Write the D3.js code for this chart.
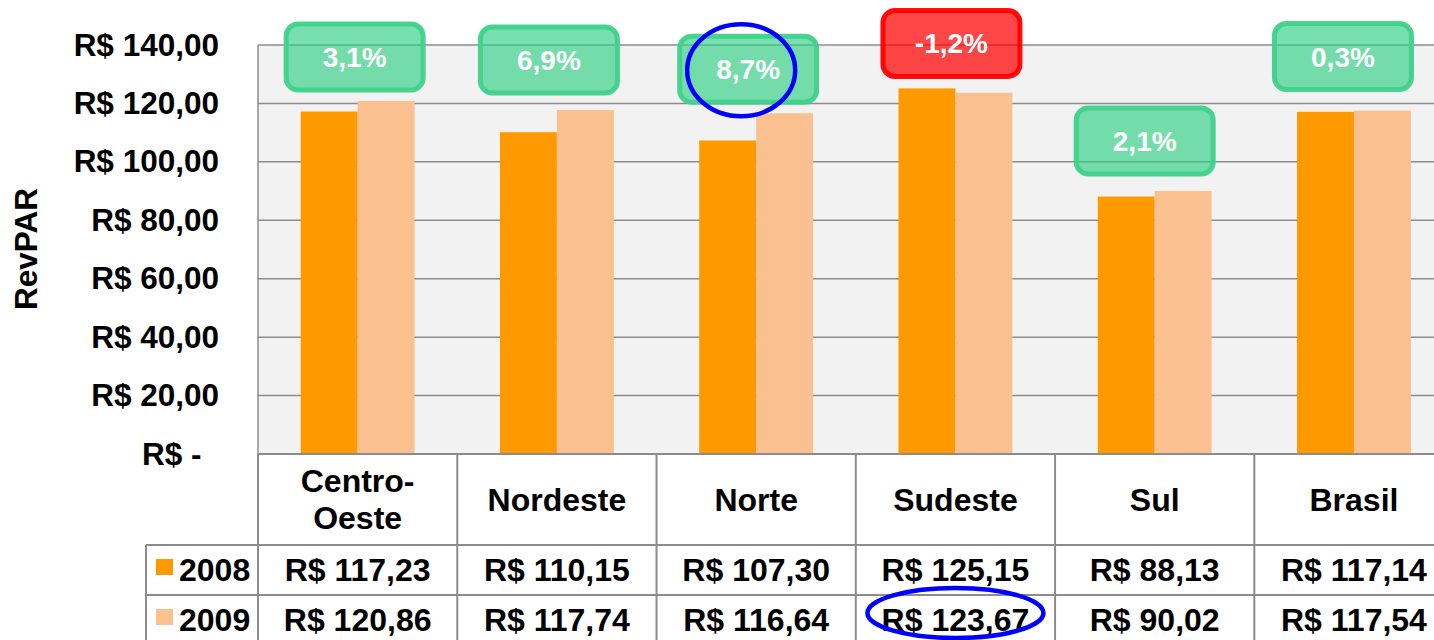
<!DOCTYPE html>
<html>
<head>
<meta charset="utf-8">
<script src="https://cdn.jsdelivr.net/npm/d3@7"></script>
<style>
  body { margin: 0; background: #fff; }
  svg text { font-family: "Liberation Sans", Arial, sans-serif; font-weight: bold; }
</style>
</head>
<body>
<div id="chart"></div>
<script>
// data
var regions = ["Centro-Oeste", "Nordeste", "Norte", "Sudeste", "Sul", "Brasil"];
var regionLines = [["Centro-", "Oeste"], ["Nordeste"], ["Norte"], ["Sudeste"], ["Sul"], ["Brasil"]];
var years = ["2008", "2009"];
var rev2008 = [117.23, 110.15, 107.30, 125.15, 88.13, 117.14];
var rev2009 = [120.86, 117.74, 116.64, 123.67, 90.02, 117.54];
var growthLabels = ["3,1%", "6,9%", "8,7%", "-1,2%", "2,1%", "0,3%"];
var yTicks = [0, 20, 40, 60, 80, 100, 120, 140];

// layout of the hand-placed callout boxes (px above tallest bar / shift from column centre)
var boxLift = [77, 83, 77, 78, 83, 87];
var boxDx = [-3, -8, -8, -4, -10, -11];

var W = 1434, H = 640;
var plotLeft = 258, plotRight = 1453.6, plotTop = 45, plotBottom = 454;
var rowTops = [454, 545, 595, 645];   // header, 2008, 2009
var legendLeft = 146;
var colors = ["#ff9900", "#fac090"];
var gridColor = "#8c8c8c";
var fs = 32;

var money = function (v) { return "R$ " + v.toFixed(2).replace(".", ","); };

var svg = d3.select("#chart").append("svg")
    .attr("width", W)
    .attr("height", H);

var x = d3.scaleBand().domain(regions).range([plotLeft, plotRight]);
var xs = d3.scaleBand().domain(years).range([0, x.bandwidth()])
    .paddingInner(0).paddingOuter(0.75);     // gap width 150%
var y = d3.scaleLinear().domain([0, 140]).range([plotBottom, plotTop]);

// plot background
svg.append("rect")
    .attr("x", plotLeft).attr("y", plotTop)
    .attr("width", plotRight - plotLeft).attr("height", plotBottom - plotTop)
    .attr("fill", "#f2f2f2");

// gridlines
svg.append("g").selectAll("line").data(yTicks).join("line")
    .attr("x1", plotLeft).attr("x2", plotRight)
    .attr("y1", d => y(d)).attr("y2", d => y(d))
    .attr("stroke", gridColor).attr("stroke-width", 1.5);

svg.append("line")
    .attr("x1", plotLeft).attr("x2", plotLeft).attr("y1", plotTop).attr("y2", plotBottom)
    .attr("stroke", gridColor).attr("stroke-width", 1.5);

// bars
var series = [rev2008, rev2009];
series.forEach(function (vals, si) {
    svg.append("g").selectAll("rect").data(regions).join("rect")
        .attr("x", d => x(d) + xs(years[si]))
        .attr("width", xs.bandwidth())
        .attr("y", (d, i) => y(vals[i]))
        .attr("height", (d, i) => y(0) - y(vals[i]))
        .attr("fill", colors[si]);
});

// y axis
var yAxis = d3.axisLeft(y).tickValues(yTicks).tickSize(0).tickPadding(0)
    .tickFormat(d => d === 0 ? "R$ -\u00a0\u00a0" : money(d));
var ga = svg.append("g").attr("transform", "translate(219,0)").call(yAxis);
ga.select(".domain").remove();
ga.selectAll("text")
    .attr("font-size", 31.5).attr("fill", "#000")
    .style("font-family", "'Liberation Sans', Arial, sans-serif")
    .style("font-weight", "bold");

svg.append("text")
    .attr("transform", "translate(37,249) rotate(-90)")
    .attr("text-anchor", "middle")
    .attr("font-size", 31.5)
    .text("RevPAR");

// data table
var tbl = svg.append("g").attr("stroke", gridColor).attr("stroke-width", 2);
var colEdges = regions.map(d => x(d)).concat([plotRight]);
tbl.selectAll(".v").data(colEdges).join("line")
    .attr("x1", d => d).attr("x2", d => d)
    .attr("y1", rowTops[0]).attr("y2", H);
tbl.append("line").attr("x1", legendLeft).attr("x2", legendLeft)
    .attr("y1", rowTops[1]).attr("y2", H);
tbl.append("line").attr("x1", plotLeft).attr("x2", plotRight)
    .attr("y1", rowTops[0]).attr("y2", rowTops[0]);
tbl.selectAll(".h").data(rowTops.slice(1, 3)).join("line")
    .attr("x1", legendLeft).attr("x2", plotRight)
    .attr("y1", d => d).attr("y2", d => d);

// header row
regions.forEach(function (r, i) {
    var lines = regionLines[i];
    var cx = x(r) + x.bandwidth() / 2;
    var cy = (rowTops[0] + rowTops[1]) / 2;
    lines.forEach(function (t, li) {
        svg.append("text")
            .attr("x", cx)
            .attr("y", cy + (li - (lines.length - 1) / 2) * 37 + 11)
            .attr("text-anchor", "middle")
            .attr("font-size", fs)
            .text(t);
    });
});

// value rows
series.forEach(function (vals, si) {
    var baseY = (rowTops[si + 1] + rowTops[si + 2]) / 2 + 11;
    svg.append("g").selectAll("text").data(regions).join("text")
        .attr("x", d => x(d) + x.bandwidth() / 2)
        .attr("y", baseY)
        .attr("text-anchor", "middle")
        .attr("font-size", fs)
        .text((d, i) => money(vals[i]));
    svg.append("rect")
        .attr("x", 156).attr("y", baseY - 22)
        .attr("width", 17).attr("height", 16)
        .attr("fill", colors[si]);
    svg.append("text")
        .attr("x", 179).attr("y", baseY)
        .attr("font-size", fs)
        .text(years[si]);
});

// growth boxes
var boxW = 137, boxH = 66;
var boxCx = function (i) { return x(regions[i]) + x.bandwidth() / 2 + boxDx[i]; };
var boxTop = function (i) { return y(Math.max(rev2008[i], rev2009[i])) - boxLift[i]; };
regions.forEach(function (r, i) {
    var neg = growthLabels[i].charAt(0) === "-";
    var cx = boxCx(i), by = boxTop(i);
    svg.append("rect")
        .attr("x", cx - boxW / 2).attr("y", by)
        .attr("width", boxW).attr("height", boxH)
        .attr("rx", 12)
        .attr("fill", neg ? "#ff0000" : "#2fd083")
        .attr("fill-opacity", neg ? 0.72 : 0.65)
        .attr("stroke", neg ? "#ff0000" : "#3fd18b")
        .attr("stroke-opacity", 0.95)
        .attr("stroke-width", 5);
    svg.append("text")
        .attr("x", cx).attr("y", by + boxH / 2 + 10)
        .attr("text-anchor", "middle")
        .attr("font-size", 28)
        .attr("fill", "#fff")
        .text(growthLabels[i]);
});

// blue highlight ellipses
svg.append("ellipse")
    .attr("cx", boxCx(2) - 7)
    .attr("cy", boxTop(2) + boxH / 2 + 1)
    .attr("rx", 54).attr("ry", 46)
    .attr("fill", "none").attr("stroke", "#0000ff").attr("stroke-width", 4.5);
svg.append("ellipse")
    .attr("cx", x("Sudeste") + x.bandwidth() / 2)
    .attr("cy", (rowTops[2] + rowTops[3]) / 2 - 7)
    .attr("rx", 88).attr("ry", 25)
    .attr("fill", "none").attr("stroke", "#0000ff").attr("stroke-width", 4.5);
</script>
</body>
</html>
